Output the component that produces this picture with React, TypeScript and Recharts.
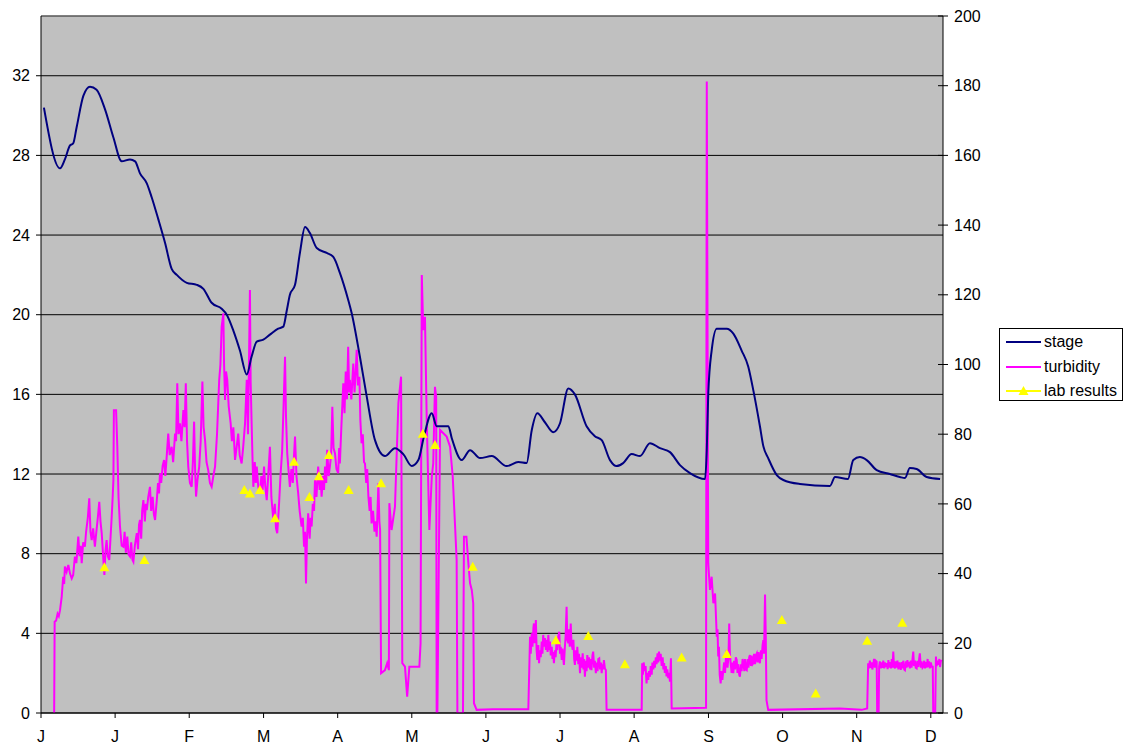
import { LineChart, Line, XAxis, YAxis, CartesianGrid, ReferenceLine } from 'recharts'

// x = days from the first tick, y = value
const monthLabels = ['J', 'J', 'F', 'M', 'A', 'M', 'J', 'J', 'A', 'S', 'O', 'N', 'D']
const monthTicks = [0, 30.4, 60.8, 91.3, 121.7, 152.1, 182.5, 212.9, 243.3, 273.8, 304.2, 334.6, 365]
const leftTicks = [0, 4, 8, 12, 16, 20, 24, 28, 32]
const rightTicks = [0, 20, 40, 60, 80, 100, 120, 140, 160, 180, 200]

const stagePoints: [number, number][] = [
  [1.2, 30.4], [7.8, 27.35], [9.8, 27.8], [11.9, 28.5], [13.2, 28.6], [14.6, 29.4],
  [17.4, 31.0], [20.1, 31.45], [22.8, 31.3], [26.3, 30.3], [29.7, 28.9], [33.1, 27.7],
  [36.5, 27.8], [38.6, 27.7], [40.6, 27.1], [43.4, 26.6], [45.4, 25.9], [48.1, 24.8],
  [50.9, 23.6], [53.6, 22.3], [55.7, 22.0], [59.8, 21.6], [63.9, 21.5], [66.6, 21.3],
  [70.0, 20.6], [74.1, 20.3], [76.2, 20.0], [78.9, 19.2], [81.6, 18.2], [84.4, 17.0],
  [86.4, 17.9], [88.5, 18.65], [91.2, 18.75], [93.9, 19.0], [97.3, 19.3], [99.4, 19.4],
  [100.8, 20.2], [102.1, 21.0], [104.2, 21.5], [106.2, 23.1], [108.3, 24.4], [110.3, 24.1],
  [113.1, 23.35], [117.2, 23.1], [119.9, 22.9], [122.6, 22.1], [126.0, 20.75], [127.4, 20.1],
  [130.8, 17.9], [133.6, 15.9], [137.0, 13.7], [141.1, 12.9], [145.2, 13.3], [148.6, 13.0],
  [152.1, 12.4], [154.8, 12.7], [157.1, 13.9], [160.3, 15.05], [162.3, 14.4], [167.1, 14.4],
  [168.5, 13.8], [172.6, 12.7], [176.0, 13.2], [180.1, 12.8], [184.9, 12.9], [191.0, 12.4],
  [195.8, 12.6], [199.2, 12.55], [201.3, 14.2], [203.6, 15.05], [206.7, 14.6], [210.1, 14.1],
  [212.9, 14.55], [216.3, 16.3], [219.0, 16.0], [223.8, 14.4], [227.2, 13.9], [230.0, 13.7],
  [233.4, 12.7], [236.1, 12.4], [238.8, 12.55], [242.3, 13.0], [245.7, 12.9], [249.8, 13.55],
  [253.9, 13.3], [258.0, 13.1], [262.1, 12.45], [266.2, 12.05], [272.4, 11.75], [273.1, 13.2],
  [273.7, 16.0], [275.1, 18.2], [277.2, 19.3], [281.3, 19.3], [284.0, 19.05], [287.4, 18.2],
  [290.1, 17.4], [292.2, 16.2], [294.9, 14.4], [296.3, 13.4], [298.3, 12.8], [301.8, 11.95],
  [304.5, 11.7], [311.3, 11.5], [323.6, 11.4], [325.7, 11.85], [331.0, 11.75], [333.2, 12.7],
  [335.9, 12.85], [338.7, 12.7], [342.8, 12.2], [348.2, 12.0], [352.3, 11.85], [354.4, 11.8],
  [356.4, 12.3], [359.2, 12.25], [363.3, 11.85], [368.8, 11.75],
]

const turbidityPoints: [number, number][] = [
  // Dec - Jan
  [5.4, 0], [5.6, 26.2], [6.2, 26.5], [6.8, 28.5], [7.3, 27.8], [7.8, 29.5], [8.5, 33.4], [9.1, 39.1],
  [9.5, 37], [9.8, 42], [10.5, 40.5], [11.2, 42.5], [11.9, 40], [12.6, 38.6], [13.2, 39.6], [13.9, 44.9],
  [14.5, 43], [15.3, 50.6], [15.8, 45], [16.3, 48], [16.7, 43], [17.3, 49], [18.0, 47.7], [18.5, 52],
  [19.2, 56], [19.8, 61.6], [20.3, 52], [20.8, 49.6], [21.4, 53], [22.1, 47.7], [22.7, 52], [23.3, 56],
  [23.9, 60.6], [24.4, 55], [24.9, 51.6], [25.5, 45], [26.0, 39.6], [26.4, 46], [26.9, 49.6], [27.4, 45],
  [28.0, 43.9], [28.5, 50], [29.0, 56.3], [29.4, 62], [29.7, 66.9], [29.9, 86.9], [30.8, 86.9], [31.3, 76.4],
  [31.8, 62], [32.4, 53.5], [33.1, 48], [33.8, 47.7], [34.3, 52], [34.8, 46], [35.4, 50.6], [35.9, 45.5],
  [36.5, 44.9], [37.0, 49], [37.5, 44], [37.9, 43.4], [38.5, 48], [39.3, 51.6], [39.8, 47], [40.2, 54],
  [40.6, 55.4], [41.1, 50], [41.5, 58], [42.0, 61.1], [42.6, 55], [43.0, 60], [43.4, 58.2], [44.0, 62],
  [44.7, 64.9], [45.2, 58], [45.8, 62], [46.3, 57], [46.8, 55.4], [47.5, 61.1], [48.0, 66], [48.4, 63],
  [48.8, 68.8], [49.3, 66], [49.9, 71], [50.5, 72.6], [51.0, 68], [51.6, 74], [52.2, 80.2], [52.8, 74],
  [53.6, 76.4], [54.2, 72], [55.0, 80.2], [55.4, 78], [55.9, 94.6], [56.4, 80], [57.0, 83.1], [57.6, 78],
  [58.4, 86.9], [58.9, 82], [59.4, 94.6], [59.9, 78], [60.4, 70.7], [61.1, 66], [61.8, 64.9], [62.3, 72],
  [62.8, 83.6], [63.2, 70], [63.6, 62.1], [64.2, 67], [64.9, 70.7], [65.5, 78], [66.2, 95.1], [66.7, 82],
  [67.3, 78.3], [67.9, 72], [68.6, 69.7], [69.3, 66], [70.0, 64.9], [70.7, 68], [71.4, 70.7], [72.2, 80],
  // Feb - Apr
  [73.1, 95.6], [73.6, 100], [74.1, 110.8], [74.8, 114.7], [75.1, 100], [75.5, 89.8], [75.9, 98], [76.4, 95.6],
  [77.0, 88], [77.8, 83.1], [78.3, 78], [78.9, 82], [79.6, 72.6], [80.2, 76], [80.9, 80.2], [81.5, 74],
  [82.3, 71.6], [82.9, 76], [83.7, 83.1], [84.4, 95.6], [84.9, 80], [85.3, 100], [85.7, 121.4], [86.0, 95],
  [86.4, 83.1], [86.8, 72], [87.1, 64.9], [87.7, 72], [88.1, 66], [88.5, 70.7], [89.1, 65], [89.8, 63.0],
  [90.4, 68], [90.9, 64], [91.5, 70.7], [92.0, 65], [92.6, 61.1], [93.2, 68], [93.9, 76.4], [94.5, 62],
  [95.3, 55.4], [95.9, 60], [96.4, 53], [96.9, 51.6], [97.5, 58], [98.3, 68.8], [98.9, 75], [99.5, 88],
  [100.1, 102.2], [100.5, 85], [101.0, 74.5], [101.5, 70], [102.1, 64.9], [102.7, 70], [103.3, 66], [103.8, 74],
  [104.2, 79.3], [104.8, 68], [105.5, 63.0], [106.1, 58], [106.9, 53.5], [107.4, 56], [107.9, 47.7], [108.3, 52],
  [108.7, 37.2], [109.1, 50], [109.6, 57.3], [110.2, 50], [110.6, 56], [111.0, 53.5], [111.5, 60], [112.0, 58],
  [112.4, 66.9], [113.0, 62], [113.7, 70.7], [114.3, 64], [114.7, 68], [115.1, 62.1], [115.7, 68], [116.1, 64],
  [116.5, 70.7], [117.0, 66], [117.4, 75.5], [118.0, 68], [118.5, 70.7], [119.0, 74], [119.5, 87.9], [120.0, 76],
  [120.6, 74.5], [121.2, 70], [121.9, 68.8], [122.3, 76], [122.6, 71.6], [123.2, 82], [124.0, 94.6], [124.5, 86],
  [125.0, 98], [125.5, 90], [126.0, 105.1], [126.4, 92], [126.7, 95.6], [127.3, 90], [128.1, 100.3], [128.6, 92],
  [129.1, 98], [129.5, 104.2], [130.0, 94], [130.6, 96.5], [131.0, 84], [131.5, 77.4], [132.0, 80], [132.5, 72],
  [132.9, 71.6], [133.4, 66], [133.8, 70], [134.3, 62.1], [134.8, 58], [135.2, 62], [135.6, 54.4], [136.2, 58],
  [136.8, 52], [137.2, 55], [137.7, 50.6], [138.4, 65.9], [138.8, 55], [139.1, 52.5],
  // Apr - Jun
  [139.5, 11.4], [141.1, 12.3], [142.0, 14.3], [142.7, 12.3], [142.9, 60.2], [143.8, 52.5], [145.2, 59.2],
  [146.6, 88.9], [147.7, 96.5], [148.2, 14.3], [149.3, 13.3], [150.2, 4.7], [151.1, 13.3], [155.2, 13.3],
  [155.7, 20.0], [156.2, 125.7], [156.8, 109.9], [157.5, 113.7], [158.2, 85.0], [159.3, 52.5], [160.3, 67.8],
  [160.9, 71.6], [161.6, 93.6], [162.1, 90.8], [162.3, 0], [162.6, 0], [163.7, 81.2], [166.4, 79.3],
  [167.8, 76.4], [168.9, 67.8], [169.8, 54.4], [170.5, 43.9], [170.8, 0], [173.1, 0], [173.5, 50.6],
  [174.5, 50.6], [175.3, 43], [176.0, 37.2], [176.7, 35.3], [177.3, 31.5], [177.6, 2.8], [178.7, 0.9],
  [185.5, 1.1], [192.4, 1.1], [199.9, 1.1],
  // Jun - Jul
  [200.6, 21.9], [200.9, 17], [201.3, 22.9], [201.6, 19], [202.0, 24.5], [202.2, 25.7], [202.5, 20], [203.0, 26.7],
  [203.3, 18], [203.6, 15.2], [204.0, 19.5], [204.3, 14.3], [204.7, 18], [205.0, 16], [205.4, 20.5], [205.7, 17],
  [206.0, 22.4], [206.4, 19], [206.7, 21.5], [207.1, 18.1], [207.4, 21], [207.8, 17.5], [208.1, 22.4], [208.5, 18],
  [208.8, 20.5], [209.1, 16.5], [209.5, 19], [209.8, 15.5], [210.1, 17.5], [210.4, 14.3], [210.8, 18], [211.1, 16],
  [211.5, 20.5], [211.8, 18], [212.2, 22], [212.6, 23.3], [212.9, 17], [213.2, 19], [213.6, 15.2], [213.9, 18.5],
  [214.2, 16], [214.5, 13.8], [214.9, 19], [215.2, 22], [215.6, 30.5], [215.9, 21], [216.3, 20.0], [216.6, 24],
  [216.9, 19], [217.3, 25.7], [217.6, 20], [218.1, 18.1], [218.4, 21], [218.7, 15.5], [219.0, 13.8], [219.4, 18],
  [219.7, 15], [220.0, 19.0], [220.4, 14], [220.7, 17], [221.1, 11.4], [221.4, 16], [221.8, 13], [222.2, 17.1],
  [222.5, 12.5], [222.8, 15.5], [223.1, 10.4], [223.5, 15], [223.8, 12], [224.1, 16.6], [224.5, 13], [224.8, 16],
  [225.2, 12.5], [225.5, 15.5], [225.8, 12.3], [226.2, 16.5], [226.5, 17.6], [226.9, 13], [227.2, 15], [227.6, 11.4],
  [227.9, 14.5], [228.3, 12], [228.6, 15.5], [229.0, 15.7], [229.3, 12.5], [229.7, 14.5], [230.0, 11.4], [230.3, 14],
  [230.6, 12.5], [230.9, 15.2], [231.3, 12.8], [231.7, 12.3], [232.0, 0.9],
  // Aug
  [246.4, 0.9], [246.6, 14.3], [246.9, 11], [247.2, 14.5], [247.7, 12], [248.0, 13.5], [248.4, 8.5], [248.7, 11.5],
  [249.1, 9.5], [249.4, 12], [249.8, 10.4], [250.1, 13.5], [250.5, 11], [250.8, 14.5], [251.2, 12.5], [251.5, 15],
  [251.8, 13], [252.2, 16], [252.5, 14], [252.9, 17.1], [253.2, 14.5], [253.5, 17.6], [253.9, 15], [254.2, 17],
  [254.6, 13.5], [255.0, 16], [255.3, 12.5], [255.6, 14.3], [255.9, 11.5], [256.3, 13.5], [256.6, 10.5], [256.9, 12.5],
  [257.3, 10], [257.6, 11.5], [258.0, 9.0], [258.2, 12], [258.4, 15.7], [258.7, 1.3], [272.8, 1.5],
  // Sep - Oct
  [273.1, 181.2], [273.7, 43], [274.4, 35.3], [275.1, 39.1], [275.8, 31.5], [276.5, 34.3], [277.2, 21.9], [277.5, 24],
  [277.8, 16.2], [278.1, 19], [278.4, 11], [278.8, 8.5], [279.1, 12], [279.5, 9.5], [279.9, 12.3], [280.2, 14.5],
  [280.6, 11.5], [280.9, 15.5], [281.3, 18.1], [281.6, 13], [282.0, 16], [282.3, 25.7], [282.6, 17], [282.9, 14.3],
  [283.3, 11.5], [283.6, 14.5], [284.0, 11.4], [284.3, 15], [284.7, 12.5], [285.0, 16], [285.4, 15.2], [285.7, 11.5],
  [286.0, 14], [286.4, 11], [286.7, 10.4], [287.1, 14], [287.4, 12], [287.8, 15.5], [288.1, 14.3], [288.5, 12],
  [288.8, 15.5], [289.2, 12.5], [289.5, 12.3], [289.9, 15.5], [290.2, 13], [290.5, 16], [290.8, 16.6], [291.2, 13.5],
  [291.5, 16.5], [291.9, 14], [292.2, 14.3], [292.5, 17], [292.9, 14], [293.2, 16.5], [293.6, 17.1], [293.9, 14.5],
  [294.3, 17.5], [294.6, 15], [294.9, 14.3], [295.3, 18], [295.6, 15.5], [296.0, 19.5], [296.3, 20.9], [296.6, 17],
  [297.0, 34], [297.3, 22], [297.6, 3.7], [298.3, 0.9], [327.7, 1.3], [336.6, 0.9], [338.9, 1.3],
  // Nov - Dec
  [339.3, 14.3], [339.6, 12.8], [340.0, 15], [340.3, 13], [340.7, 14.5], [341.0, 12.5], [341.4, 13.8], [341.7, 15.5],
  [342.1, 13], [342.4, 15], [342.8, 14.7], [343.0, 0], [343.6, 0], [343.8, 13.3], [344.1, 14.8], [344.5, 12.8],
  [344.8, 14.5], [345.2, 13], [345.5, 15], [345.9, 12.8], [346.2, 14.5], [346.6, 13.2], [346.9, 14.3], [347.3, 12.6],
  [347.6, 15.2], [348.0, 13], [348.3, 14.6], [348.7, 12.8], [349.0, 15.5], [349.3, 13], [349.6, 17.6], [349.9, 13.5],
  [350.3, 12.8], [350.6, 14.8], [351.0, 13], [351.3, 15], [351.7, 12.5], [352.0, 14.5], [352.3, 13.8], [352.7, 12.4],
  [353.0, 14.6], [353.4, 12.8], [353.7, 15], [354.1, 12.5], [354.4, 12.3], [354.8, 14.8], [355.1, 13], [355.4, 15.2],
  [355.7, 13.3], [356.1, 14.7], [356.4, 12.8], [356.8, 15], [357.1, 13], [357.5, 15.5], [357.8, 17.6], [358.1, 13.5],
  [358.5, 15], [358.8, 13], [359.2, 12.8], [359.5, 15], [359.9, 13.2], [360.2, 15.5], [360.5, 17.1], [360.9, 13],
  [361.2, 14.8], [361.6, 13], [361.9, 13.3], [362.3, 15], [362.6, 12.8], [363.0, 14.6], [363.3, 13], [363.7, 15.5],
  [364.0, 13.2], [364.3, 14.8], [364.6, 12.8], [365.0, 14.5], [365.4, 13.3], [365.8, 13.3], [366.0, 0], [366.8, 0],
  [367.1, 16.2], [367.4, 13.5], [367.8, 15], [368.1, 13.8], [368.5, 15.5], [368.8, 13.2], [369.1, 14.8], [369.5, 15.2],
]

const labPoints: [number, number][] = [
  [26.0, 41.8], [42.4, 43.9], [83.4, 64.0], [85.7, 63.0], [89.8, 64.0], [96.0, 55.9],
  [103.8, 72.1], [110.1, 62.0], [114.0, 67.9], [118.1, 74.0], [126.2, 64.0], [139.5, 65.9],
  [156.6, 80.1], [161.6, 76.9], [177.1, 42.0], [211.2, 20.9], [224.5, 22.1], [239.5, 14.0],
  [262.8, 15.9], [281.3, 16.9], [303.9, 26.7], [317.8, 5.6], [338.9, 20.7], [353.3, 25.9],
]

const toRows = (pts: [number, number][]) => pts.map(([x, y]) => ({ x, y }))

const stageData = toRows(stagePoints)
const turbidityData = toRows(turbidityPoints)
const labData = toRows(labPoints)

const font = 'Arial, "Liberation Sans", sans-serif'
const tickStyle = { fontSize: 16, fill: '#000', fontFamily: font }

function Triangle(props: any) {
  const { cx, cy } = props
  if (cx == null || cy == null) return null
  return (
    <polygon
      points={`${cx},${cy - 5} ${cx - 5},${cy + 4} ${cx + 5},${cy + 4}`}
      fill="#FFFF00"
    />
  )
}

function RightTick(props: any) {
  const { x, y, payload } = props
  return (
    <g>
      <line x1={x - 16} x2={x - 6} y1={y} y2={y} stroke="#000" />
      <text x={x} y={y} dy="0.355em" textAnchor="start" {...tickStyle}>
        {payload.value}
      </text>
    </g>
  )
}

function LegendBox() {
  const items = [
    { label: 'stage', color: '#000080', marker: false },
    { label: 'turbidity', color: '#FF00FF', marker: false },
    { label: 'lab results', color: '#FFFF00', marker: true },
  ]
  return (
    <div
      style={{
        position: 'absolute',
        left: 999,
        top: 328,
        width: 124,
        height: 73,
        border: '1px solid #000',
        background: '#fff',
        boxSizing: 'border-box',
        fontFamily: font,
        fontSize: 16,
      }}
    >
      {items.map((it, i) => (
        <div
          key={it.label}
          style={{ position: 'absolute', left: 5, top: 3 + i * 24.5, height: 20, display: 'flex', alignItems: 'center' }}
        >
          <svg width={37} height={12}>
            <line x1={1} x2={36} y1={6} y2={6} stroke={it.color} strokeWidth={2} />
            {it.marker && <polygon points="18.5,1 13.5,10 23.5,10" fill="#FFFF00" />}
          </svg>
          <span style={{ marginLeft: 2, color: '#000' }}>{it.label}</span>
        </div>
      ))}
    </div>
  )
}

export default function App() {
  return (
    <div style={{ position: 'absolute', left: 0, top: 0, width: 1124, height: 747, background: '#fff' }}>
      <LineChart width={1124} height={747} margin={{ top: 16, right: 136, bottom: 0, left: 0 }}>
        <CartesianGrid
          yAxisId="left"
          vertical={false}
          stroke="#000"
          fill="#C0C0C0"
          fillOpacity={1}
        />
        <XAxis
          dataKey="x"
          type="number"
          domain={[0, 370]}
          ticks={monthTicks}
          tickFormatter={(_v: number, i: number) => monthLabels[i]}
          interval={0}
          height={34}
          tickSize={5}
          tickMargin={13}
          tick={tickStyle}
          stroke="#000"
          allowDataOverflow
        />
        <YAxis
          yAxisId="left"
          orientation="left"
          domain={[0, 35]}
          ticks={leftTicks}
          interval={0}
          width={41}
          tickSize={5}
          tickMargin={6}
          tick={tickStyle}
          stroke="#000"
          allowDataOverflow
        />
        <YAxis
          yAxisId="right"
          orientation="right"
          domain={[0, 200]}
          ticks={rightTicks}
          interval={0}
          width={45}
          tickSize={5}
          tickMargin={6}
          tickLine={false}
          tick={<RightTick />}
          stroke="#000"
          allowDataOverflow
        />
        <ReferenceLine yAxisId="left" y={35} stroke="#808080" />
        <Line
          yAxisId="right"
          data={turbidityData}
          dataKey="y"
          type="linear"
          stroke="#FF00FF"
          strokeWidth={2}
          dot={false}
          isAnimationActive={false}
        />
        <Line
          yAxisId="left"
          data={stageData}
          dataKey="y"
          type="monotone"
          stroke="#000080"
          strokeWidth={2}
          dot={false}
          isAnimationActive={false}
        />
        <Line
          yAxisId="right"
          data={labData}
          dataKey="y"
          stroke="none"
          dot={<Triangle />}
          activeDot={false}
          isAnimationActive={false}
        />
      </LineChart>
      <LegendBox />
    </div>
  )
}
